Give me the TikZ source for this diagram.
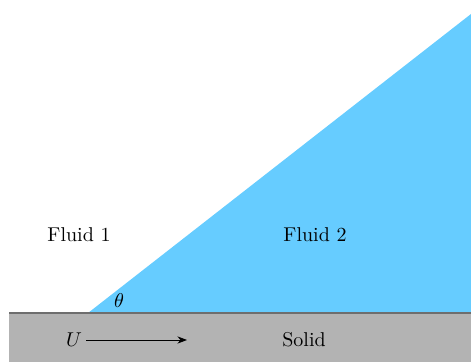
\documentclass[tikz,border=0pt]{standalone}
\usepackage{tikz}
\usetikzlibrary{arrows.meta, positioning}
\definecolor{fluidcolor}{RGB}{102, 204, 255}
\definecolor{solidcolor}{RGB}{179, 179, 179}
\definecolor{wallcolor}{RGB}{110, 110, 110}

\begin{document}
\begin{tikzpicture}[
    x=0.5pt, y=-0.5pt,
    label/.style={font=\normalsize, inner sep=1pt}
]

\useasboundingbox (0,0) rectangle (471,362);

% Solid
\fill[solidcolor] (9,313) rectangle (471,362);

% Fluid 2 wedge
\coordinate (contact) at (88,313);
\coordinate (top) at (471,14);
\coordinate (corner) at (471,313);
\fill[fluidcolor] (contact) -- (top) -- (corner) -- cycle;

% Wall
\draw[wallcolor, line width=1pt] (9,313) -- (471,313);

% Labels
\node[label] (f1) at (79,235) {Fluid 1};
\node[label] (f2) at (315,235) {Fluid 2};
\node[label] (theta) at (119,301) {$\theta$};
\node[label] (solid) at (304,340) {Solid};
\node[label] (u) at (74,340) {$U$};

% Wall velocity
\coordinate (uend) at (187,340);
\draw[-Stealth] (u.east) ++(2,0) -- (uend);

\end{tikzpicture}
\end{document}
